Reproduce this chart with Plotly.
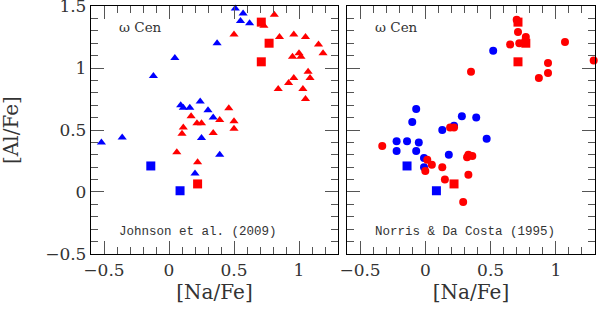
import plotly.graph_objects as go

# ---- Johnson et al. (2009) panel ----
j_blue_tri_na = [-0.52, -0.36, -0.12, 0.045, 0.09, 0.11, 0.16, 0.24, 0.30, 0.34, 0.25, 0.39, 0.20,
                 0.51, 0.57, 0.55, 0.62, 0.37]
j_blue_tri_al = [0.40, 0.44, 0.935, 1.08, 0.70, 0.68, 0.68, 0.73, 0.66, 0.60, 0.435, 0.30, 0.15,
                 1.48, 1.44, 1.38, 1.36, 1.20]
j_red_tri_na = [0.11, 0.10, 0.17, 0.215, 0.25, 0.39, 0.46, 0.50, 0.50, 0.34, 0.06, 0.22,
                0.73, 0.81, 0.50, 0.85, 0.96, 1.05, 1.15, 1.185, 1.00, 1.015, 0.95, 1.07, 1.085,
                0.96, 0.92, 0.84, 1.03, 1.05]
j_red_tri_al = [0.52, 0.47, 0.61, 0.555, 0.555, 0.58, 0.675, 0.57, 0.51, 0.475, 0.32, 0.24,
                1.34, 1.43, 1.27, 1.25, 1.27, 1.25, 1.19, 1.12, 1.12, 1.09, 1.09, 0.97, 0.92,
                0.92, 0.88, 0.83, 0.83, 0.75]

# ---- Norris & Da Costa (1995) panel ----
n_blue_na = [-0.07, -0.10, 0.28, 0.39, 0.13, 0.22, -0.22, -0.14, -0.05, -0.22, -0.07, 0.18,
             -0.01, -0.01, 0.52, 0.47]
n_blue_al = [0.67, 0.565, 0.61, 0.60, 0.50, 0.535, 0.41, 0.41, 0.40, 0.33, 0.33, 0.30,
             0.275, 0.20, 1.14, 0.43]
n_red_na = [0.35, 0.19, 0.22, -0.33, 0.015, 0.32, 0.33, 0.36, 0.05, 0.00, 0.13, 0.33, 0.15,
            0.29, 0.70, 0.71, 0.77, 0.65, 0.72, 1.07, 0.94, 0.94, 0.87, 1.29]
n_red_al = [0.97, 0.52, 0.52, 0.37, 0.26, 0.28, 0.30, 0.29, 0.22, 0.17, 0.20, 0.14, 0.10,
            -0.08, 1.39, 1.29, 1.25, 1.19, 1.20, 1.21, 1.04, 0.96, 0.92, 1.06]

# ---- squares (same stars in both panels) ----
sq_blue_na = [-0.14, 0.085]
sq_blue_al = [0.21, 0.01]
sq_red_na = [0.71, 0.77, 0.71, 0.22]
sq_red_al = [1.37, 1.20, 1.05, 0.065]

panel_labels = ["Johnson et al. (2009)", "Norris & Da Costa (1995)"]
cluster_label = "ω Cen"
x_title = "[Na/Fe]"
y_title = "[Al/Fe]"

BLUE = "#0000ff"
RED = "#ff0000"

fig = go.Figure()

def add(x, y, xa, ya, sym, col, size):
    fig.add_trace(go.Scatter(x=x, y=y, mode="markers", xaxis=xa, yaxis=ya, cliponaxis=False,
                             marker=dict(symbol=sym, color=col, size=size, line=dict(width=0)),
                             showlegend=False, hoverinfo="skip"))

add(j_blue_tri_na, j_blue_tri_al, "x", "y", "triangle-up", BLUE, 8)
add(j_red_tri_na, j_red_tri_al, "x", "y", "triangle-up", RED, 8)
add(sq_blue_na, sq_blue_al, "x", "y", "square", BLUE, 9)
add(sq_red_na, sq_red_al, "x", "y", "square", RED, 9)

add(n_blue_na, n_blue_al, "x2", "y2", "circle", BLUE, 8)
add(n_red_na, n_red_al, "x2", "y2", "circle", RED, 8)
add(sq_blue_na, sq_blue_al, "x2", "y2", "square", BLUE, 9)
add(sq_red_na, sq_red_al, "x2", "y2", "square", RED, 9)

W, H = 598, 311
serif = "DejaVu Serif"
mono = "Liberation Mono"

def ax(domain, showlabels, title=None):
    d = dict(domain=domain, showline=True, linecolor="black", linewidth=1.3, mirror="allticks",
             ticks="inside", ticklen=13, tickwidth=1, tickcolor="#555", automargin=False,
             minor=dict(ticks="inside", ticklen=7, tickwidth=1, tickcolor="#555", dtick=0.1),
             showgrid=False, zeroline=False, showticklabels=showlabels,
             ticklabeloverflow="allow",
             tickfont=dict(family=serif, size=17, color="#333"), dtick=0.5, tick0=0)
    if title:
        d["title"] = dict(text=title, font=dict(family=serif, size=20, color="#333"))
    return d

xd1 = [91 / W, 338 / W]
xd2 = [347 / W, 595 / W]
yd = [(H - 254) / H, (H - 6) / H]

xa1 = ax(xd1, True, x_title); xa1.update(range=[-0.6, 1.3], anchor="y")
xa2 = ax(xd2, True, x_title); xa2.update(range=[-0.6, 1.3], anchor="y2")
ya1 = ax(yd, True); ya1.update(range=[-0.5001, 1.5001], anchor="x")
ya2 = ax(yd, False); ya2.update(range=[-0.5001, 1.5001], anchor="x2")
xa1["title"]["standoff"] = 6
xa2["title"]["standoff"] = 6

annos = [dict(x=11 / W, y=(H - 130) / H, xref="paper", yref="paper", text=y_title,
              textangle=-90, showarrow=False, xanchor="center", yanchor="middle",
              font=dict(family=serif, size=20, color="#333"))]
for xr, yr, lab in [("x", "y", panel_labels[0]), ("x2", "y2", panel_labels[1])]:
    annos.append(dict(x=-0.4, y=1.33, xref=xr, yref=yr, text=cluster_label, showarrow=False,
                      xanchor="left", yanchor="middle", font=dict(family=serif, size=13.5, color="#333")))
    annos.append(dict(x=-0.4, y=-0.32, xref=xr, yref=yr, text=lab, showarrow=False,
                      xanchor="left", yanchor="middle", font=dict(family=mono, size=12.5, color="#333")))

fig.update_layout(width=W, height=H, margin=dict(l=0, r=0, t=0, b=0),
                  paper_bgcolor="white", plot_bgcolor="white",
                  xaxis=xa1, xaxis2=xa2, yaxis=ya1, yaxis2=ya2, annotations=annos)

fig.write_html("out.html", config={"displayModeBar": False},
               post_script="document.body.style.margin='0';")
